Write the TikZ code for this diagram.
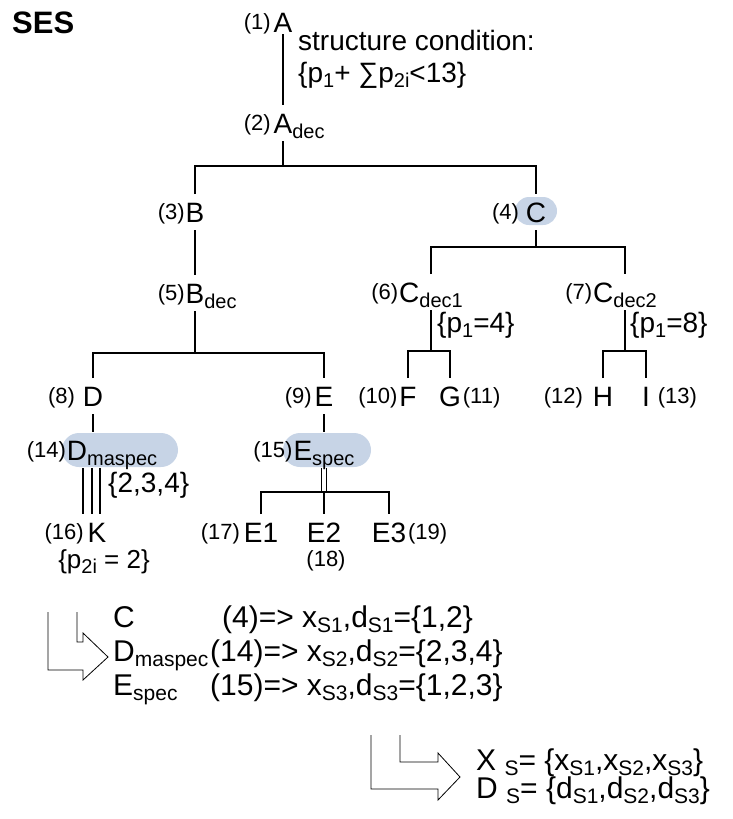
\documentclass[tikz,border=0pt]{standalone}
\usepackage{fontspec}
\setmainfont{Liberation Sans}
\definecolor{hlblue}{RGB}{199,212,230}

\newcommand{\lbl}[2][1pt]{\llap{\raisebox{3pt}{\fontsize{22}{24}\selectfont #2}\hspace{#1}}}
\newcommand{\rlbl}[2][1pt]{\rlap{\hspace{#1}\raisebox{3pt}{\fontsize{22}{24}\selectfont #2}}}
\newcommand{\sbs}[1]{\raisebox{-5pt}{\fontsize{20}{22}\selectfont #1}}
\newcommand{\rsb}[1]{\raisebox{-5pt}{\fontsize{21}{23}\selectfont #1}}

\begin{document}
\begin{tikzpicture}[x=1pt, y=-1pt,
    letter/.style={font=\fontsize{28}{32}\selectfont, inner sep=0pt, outer ysep=8pt, outer xsep=0pt,
      text height=20pt, text depth=0pt, anchor=base},
    note/.style={font=\fontsize{28}{32}\selectfont, inner sep=0pt, anchor=base west},
    result/.style={font=\fontsize{30}{34}\selectfont, inner sep=0pt, anchor=base west},
    num/.style={font=\fontsize{22}{24}\selectfont, inner sep=0pt, anchor=base},
    edge/.style={line width=1.6pt},
    bentarrow/.style={line width=0.8pt, line join=miter}
  ]
\useasboundingbox (0,0) rectangle (733,819);

% highlighted nodes
\fill[hlblue, rounded corners=14pt] (515,197) rectangle (557,225);
\fill[hlblue, rounded corners=17pt] (62,433) rectangle (178,467);
\fill[hlblue, rounded corners=17pt] (283,433) rectangle (371,467);

\node[font=\fontsize{31}{34}\selectfont\bfseries, inner sep=0pt, anchor=base west] (ses) at (12,33) {SES};

% root
\node[letter, outer ysep=2pt] (a) at (283,32) {\lbl[3pt]{(1)}A};
\node[note] (cond) at (298,50) {structure condition:};
\node[note] (sum) at (298,82) {\{p\sbs{1}+ ∑p\sbs{2i}<13\}};
\node[letter] (adec) at (283,133) {\lbl[3pt]{(2)}A\rlap{\sbs{dec}}};

% B and C
\node[letter] (b) at (195,222) {\lbl{(3)}B};
\node[letter] (c) at (536,222) {\lbl[7pt]{(4)}C};
\node[letter] (bdec) at (195,303) {\lbl{(5)}B\rlap{\sbs{dec}}};
\node[letter] (cd1) at (431,302) {\lbl{(6)}C\sbs{dec1}};
\node[letter] (cd2) at (625,302) {\lbl{(7)}C\sbs{dec2}};
\node[note] (p4) at (437,332) {\{p\sbs{1}=4\}};
\node[note] (p8) at (630,332) {\{p\sbs{1}=8\}};

% leaves of C
\node[letter] (f) at (408,406) {\lbl[2pt]{(10)}F};
\node[letter] (g) at (450,406) {G\rlbl[2pt]{(11)}};
\node[letter] (h) at (603,406) {\lbl[10pt]{(12)}H};
\node[letter] (i) at (646,406) {I\rlbl[8pt]{(13)}};

% D and E
\node[letter] (d) at (93,406) {\lbl[8pt]{(8)}D};
\node[letter] (e) at (324,406) {\lbl[3pt]{(9)}E};
\node[letter] (dm) at (77,460) {\lbl{(14)}D\rlap{\sbs{maspec}}};
\node[letter] (es) at (324,460) {\lbl{(15)}E\sbs{spec}};
\node[note] (set) at (108,492) {\{2,3,4\}};
\node[letter] (k) at (97,542) {\lbl[4pt]{(16)}K};
\node[note, anchor=base, font=\fontsize{26}{30}\selectfont] (p2) at (104,568) {\{p\sbs{2i} = 2\}};
\node[letter] (e1) at (261,542) {\lbl[4pt]{(17)}E1};
\node[letter] (e2) at (324,542) {E2};
\node[letter] (e3) at (389,542) {E3\rlbl[2pt]{(19)}};
\node[num] (n18) at (326,566) {(18)};

% connectors
\coordinate (busA) at (adec |- 0,166);
\coordinate (busB) at (bdec |- 0,353);
\coordinate (busC) at (c |- 0,247);
\coordinate (busC1) at (cd1 |- 0,351);
\coordinate (busC2) at (cd2 |- 0,351);
\coordinate (busE) at (es |- 0,492);

\draw[edge] (a) -- (adec);
\draw[edge] (adec) -- (busA);
\draw[edge] (b) |- (busA) -| (c);
\draw[edge] (b) -- (bdec);
\draw[edge] (bdec) -- (busB);
\draw[edge] (d) |- (busB) -| (e);
\draw[edge] (c) -- (busC);
\draw[edge] (cd1) |- (busC) -| (cd2);
\draw[edge] (cd1) -- (busC1);
\draw[edge] (f) |- (busC1) -| (g);
\draw[edge] (cd2) -- (busC2);
\draw[edge] (h) |- (busC2) -| (i);
\draw[edge] (d) -- (d |- dm.north);
\draw[edge] (e) -- (es);
\foreach \dx in {-14,-5,3}
  \draw[edge] ([xshift=\dx]k.north |- dm.south) -- ([xshift=\dx]k.north);
\foreach \dx in {-2.5,2.5}
  \draw[edge] ([xshift=\dx]es.south) -- ([xshift=\dx]busE);
\draw[edge] (e1) |- (busE) -| (e3);
\draw[edge] (busE) -- (e2);

% selection result
\draw[bentarrow] (77,612) -- (77,642) -- (83,642) -- (83,633) -- (108,657) -- (83,680) -- (83,670) -- (48,670) -- (48,612);
\node[result] (rc) at (113,627) {C};
\node[result] (r4) at (222,627) {(4)=> x\rsb{S1},d\rsb{S1}=\{1,2\}};
\node[result] (rd) at (113,661) {D\rsb{maspec}};
\node[result] (r14) at (210,661) {(14)=> x\rsb{S2},d\rsb{S2}=\{2,3,4\}};
\node[result] (re) at (113,695) {E\rsb{spec}};
\node[result] (r15) at (210,695) {(15)=> x\rsb{S3},d\rsb{S3}=\{1,2,3\}};

\draw[bentarrow] (400,735) -- (400,762) -- (438,762) -- (438,753) -- (460,777) -- (438,800) -- (438,789) -- (371,789) -- (371,735);
\node[result] (xs) at (476,770) {X \rsb{S}= \{x\rsb{S1},x\rsb{S2},x\rsb{S3}\}};
\node[result] (ds) at (476,798) {D \rsb{S}= \{d\rsb{S1},d\rsb{S2},d\rsb{S3}\}};

\end{tikzpicture}
\end{document}
